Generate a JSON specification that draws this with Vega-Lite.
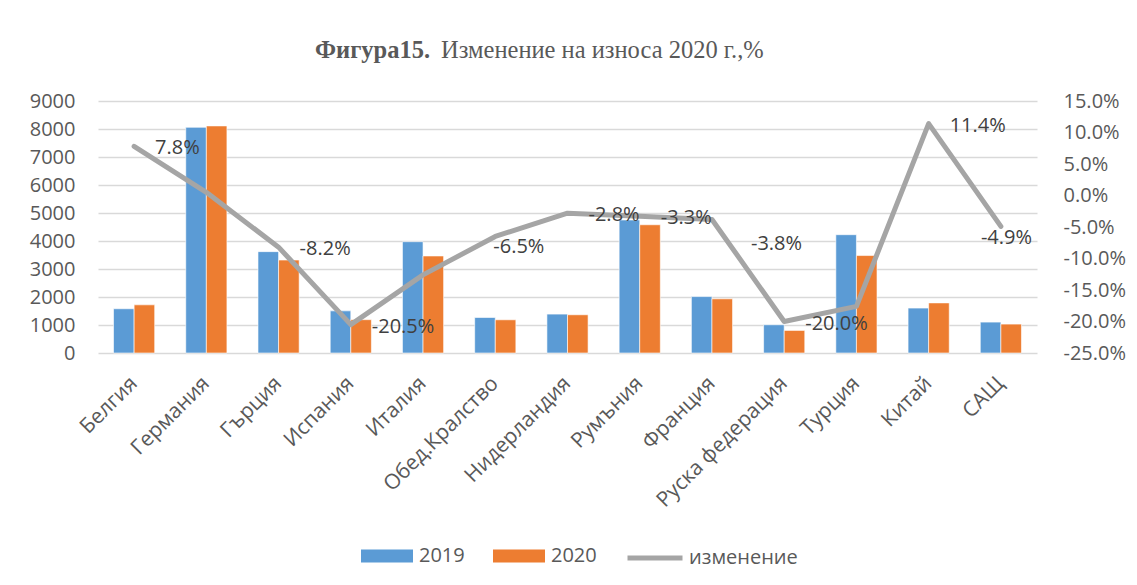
{
  "$schema": "https://vega.github.io/schema/vega-lite/v6.json",
  "autosize": {"type": "none"},
  "width": 939,
  "height": 252,
  "padding": {"left": 98, "top": 101, "right": 100, "bottom": 232},
  "background": "white",
  "title": {
    "text": "Фигура15.",
    "subtitle": "\u2800\u2800\u2800\u2800\u2800\u2800\u2800Изменение на износа 2020 г.,%",
    "font": "Liberation Serif",
    "fontSize": 24.5,
    "fontWeight": "bold",
    "color": "#595959",
    "subtitleFont": "Liberation Serif",
    "subtitleFontSize": 24.5,
    "subtitleFontWeight": "normal",
    "subtitleColor": "#595959",
    "subtitlePadding": -24.5,
    "anchor": "start",
    "frame": "group",
    "dx": 217,
    "offset": 28
  },
  "datasets": {
    "bars": [
      {"country": "Белгия", "year": "2019", "value": 1580},
      {"country": "Белгия", "year": "2020", "value": 1720},
      {"country": "Германия", "year": "2019", "value": 8060},
      {"country": "Германия", "year": "2020", "value": 8110},
      {"country": "Гърция", "year": "2019", "value": 3620},
      {"country": "Гърция", "year": "2020", "value": 3320},
      {"country": "Испания", "year": "2019", "value": 1505},
      {"country": "Испания", "year": "2020", "value": 1190},
      {"country": "Италия", "year": "2019", "value": 3975},
      {"country": "Италия", "year": "2020", "value": 3465},
      {"country": "Обед.Кралство", "year": "2019", "value": 1268},
      {"country": "Обед.Кралство", "year": "2020", "value": 1186},
      {"country": "Нидерландия", "year": "2019", "value": 1390},
      {"country": "Нидерландия", "year": "2020", "value": 1365},
      {"country": "Румъния", "year": "2019", "value": 4750},
      {"country": "Румъния", "year": "2020", "value": 4580},
      {"country": "Франция", "year": "2019", "value": 2015},
      {"country": "Франция", "year": "2020", "value": 1935},
      {"country": "Руска федерация", "year": "2019", "value": 1008},
      {"country": "Руска федерация", "year": "2020", "value": 806},
      {"country": "Турция", "year": "2019", "value": 4225},
      {"country": "Турция", "year": "2020", "value": 3480},
      {"country": "Китай", "year": "2019", "value": 1603},
      {"country": "Китай", "year": "2020", "value": 1790},
      {"country": "САЩ", "year": "2019", "value": 1104},
      {"country": "САЩ", "year": "2020", "value": 1033}
    ],
    "change": [
      {"country": "Белгия", "change": 0.078},
      {"country": "Германия", "change": 0.005},
      {"country": "Гърция", "change": -0.082},
      {"country": "Испания", "change": -0.205},
      {"country": "Италия", "change": -0.126},
      {"country": "Обед.Кралство", "change": -0.065},
      {"country": "Нидерландия", "change": -0.028},
      {"country": "Румъния", "change": -0.033},
      {"country": "Франция", "change": -0.038},
      {"country": "Руска федерация", "change": -0.2},
      {"country": "Турция", "change": -0.176},
      {"country": "Китай", "change": 0.114},
      {"country": "САЩ", "change": -0.049}
    ]
  },
  "config": {
    "font": "Open Sans",
    "locale": {"number": {"decimal": ".", "thousands": ",", "grouping": [3], "currency": ["$", ""], "minus": "-"}},
    "view": {"stroke": null},
    "axis": {
      "labelFont": "Open Sans",
      "labelFontSize": 20,
      "labelColor": "#595959",
      "labelOverlap": false,
      "domain": false,
      "ticks": false,
      "title": null
    }
  },
  "layer": [
    {
      "data": {"name": "bars"},
      "mark": {"type": "bar", "stroke": "white", "strokeWidth": 0.6},
      "encoding": {
        "x": {
          "field": "country",
          "type": "nominal",
          "sort": ["Белгия", "Германия", "Гърция", "Испания", "Италия", "Обед.Кралство", "Нидерландия", "Румъния", "Франция", "Руска федерация", "Турция", "Китай", "САЩ"],
          "scale": {"paddingInner": 0.43, "paddingOuter": 0.215},
          "axis": {"labelAngle": -45, "labelAlign": "right", "labelBaseline": "middle", "labelPadding": 27, "labelFontSize": 21, "grid": false}
        },
        "xOffset": {"field": "year", "type": "nominal"},
        "y": {
          "field": "value",
          "type": "quantitative",
          "scale": {"domain": [0, 9000], "nice": false},
          "axis": {
            "values": [0, 1000, 2000, 3000, 4000, 5000, 6000, 7000, 8000, 9000],
            "format": "d",
            "grid": true,
            "gridColor": "#D9D9D9",
            "gridWidth": 1.3,
            "labelPadding": 23,
            "labelOverlap": false,
            "orient": "left"
          }
        },
        "color": {
          "field": "year",
          "type": "nominal",
          "scale": {"domain": ["2019", "2020"], "range": ["#5B9BD5", "#ED7D31"]},
          "legend": {
            "title": null,
            "orient": "none",
            "direction": "horizontal",
            "legendX": 263,
            "legendY": 429,
            "labelFont": "Open Sans",
            "labelFontSize": 20,
            "labelColor": "#595959",
            "labelOffset": 6,
            "columnPadding": 28,
            "symbolSize": 2704,
            "symbolType": "M-1,-0.25L1,-0.25L1,0.25L-1,0.25Z",
            "symbolStrokeWidth": 0
          }
        }
      }
    },
    {
      "data": {"name": "change"},
      "encoding": {
        "x": {"field": "country", "type": "nominal", "sort": ["Белгия", "Германия", "Гърция", "Испания", "Италия", "Обед.Кралство", "Нидерландия", "Румъния", "Франция", "Руска федерация", "Турция", "Китай", "САЩ"]},
        "y": {
          "field": "change",
          "type": "quantitative",
          "scale": {"domain": [-0.25, 0.15], "nice": false, "zero": false},
          "axis": {
            "orient": "right",
            "values": [-0.25, -0.2, -0.15, -0.1, -0.05, 0, 0.05, 0.1, 0.15],
            "format": ".1%",
            "grid": false,
            "labelOverlap": false,
            "labelPadding": 26
          }
        }
      },
      "layer": [
        {
          "mark": {"type": "line", "strokeWidth": 5, "strokeJoin": "round", "strokeCap": "round"},
          "encoding": {
            "stroke": {
              "datum": "изменение",
              "scale": {"domain": ["изменение"], "range": ["#A5A5A5"]},
              "legend": {
                "title": null,
                "orient": "none",
                "direction": "horizontal",
                "legendX": 527,
                "legendY": 427,
                "labelFont": "Open Sans",
                "labelFontSize": 20,
                "labelColor": "#595959",
                "labelOffset": 4,
                "symbolSize": 3025,
                "symbolType": "stroke",
                "symbolStrokeWidth": 5
              }
            }
          }
        },
        {
          "transform": [{"filter": {"field": "country", "oneOf": ["Белгия", "Гърция", "Испания", "Нидерландия", "Румъния", "Руска федерация", "Китай"]}}],
          "mark": {"type": "text", "align": "left", "baseline": "middle", "dx": 21, "dy": 2, "fontSize": 20, "font": "Open Sans", "color": "#404040"},
          "encoding": {
            "text": {"field": "change", "type": "quantitative", "format": ".1%"}
          }
        },
        {
          "transform": [{"filter": {"field": "country", "equal": "Обед.Кралство"}}],
          "mark": {"type": "text", "align": "left", "baseline": "middle", "dx": -2, "dy": 11, "fontSize": 20, "font": "Open Sans", "color": "#404040"},
          "encoding": {
            "text": {"field": "change", "type": "quantitative", "format": ".1%"}
          }
        },
        {
          "transform": [{"filter": {"field": "country", "equal": "Франция"}}],
          "mark": {"type": "text", "align": "left", "baseline": "middle", "dx": 39, "dy": 25, "fontSize": 20, "font": "Open Sans", "color": "#404040"},
          "encoding": {
            "text": {"field": "change", "type": "quantitative", "format": ".1%"}
          }
        },
        {
          "transform": [{"filter": {"field": "country", "equal": "САЩ"}}],
          "mark": {"type": "text", "align": "left", "baseline": "middle", "dx": -20, "dy": 12, "fontSize": 20, "font": "Open Sans", "color": "#404040"},
          "encoding": {
            "text": {"field": "change", "type": "quantitative", "format": ".1%"}
          }
        }
      ]
    }
  ],
  "resolve": {"scale": {"y": "independent"}, "axis": {"y": "independent"}}
}
